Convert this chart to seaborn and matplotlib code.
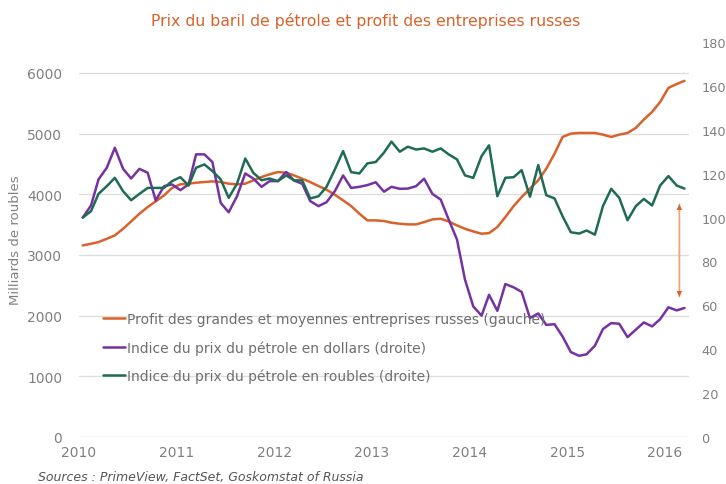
import pandas as pd
import numpy as np
import matplotlib
matplotlib.use("Agg")
import matplotlib.pyplot as plt
import matplotlib.dates as mdates
import seaborn as sns

# monthly data, Jan 2010 - Mar 2016 (points placed mid-month)
dates = pd.date_range("2010-01-01", periods=75, freq="MS") + pd.Timedelta(days=14)

# profit of large and medium Russian companies, bn roubles (left axis)
profit = [3157, 3185, 3212, 3267, 3322, 3432, 3553, 3680, 3790, 3883, 3982, 4104,
          4164, 4175, 4191, 4202, 4213, 4202, 4175, 4164, 4175, 4230, 4285, 4329,
          4367, 4356, 4312, 4257, 4202, 4136, 4076, 3993, 3900, 3806, 3680, 3570,
          3570, 3560, 3531, 3515, 3504, 3504, 3542, 3586, 3597, 3553, 3487, 3432,
          3388, 3350, 3360, 3460, 3625, 3806, 3955, 4092, 4230, 4422, 4670, 4945,
          5000, 5011, 5011, 5011, 4983, 4945, 4983, 5011, 5094, 5231, 5358, 5520,
          5754, 5817, 5870]

# oil price index in dollars (right axis)
oil_usd = [100, 105.5, 117.4, 122.7, 131.8, 122.2, 117.8, 122.2, 120.4, 107.8, 114.3, 115.1,
           112.5, 115.1, 128.8, 128.8, 125.3, 106.7, 102.4, 109.7, 120.1, 117.8, 114.0, 116.6,
           116.6, 120.8, 116.9, 115.4, 107.5, 105.2, 107.0, 112.0, 119.2, 113.5, 114.0, 114.8,
           116.1, 111.8, 114.0, 113.1, 113.2, 114.3, 117.7, 110.8, 108.2, 99.1, 90.0, 71.7,
           59.5, 55.3, 64.8, 57.5, 69.7, 68.2, 66.1, 54.2, 56.3, 51.1, 51.4, 45.8,
           38.7, 37.0, 37.7, 41.6, 49.2, 51.9, 51.6, 45.5, 48.9, 52.2, 50.4, 53.7,
           59.1, 57.7, 58.8]

# oil price index in roubles (right axis)
oil_rub = [100, 102.9, 110.8, 114.3, 118.1, 112.0, 107.9, 110.8, 113.5, 113.5, 113.5, 116.6,
           118.4, 114.6, 122.7, 124.2, 121.2, 117.4, 109.0, 115.4, 126.9, 120.4, 117.0, 117.8,
           116.6, 119.2, 117.0, 116.9, 108.7, 109.7, 114.0, 121.9, 130.3, 120.7, 120.1, 124.7,
           125.3, 129.6, 134.6, 130.0, 132.3, 131.0, 131.5, 130.0, 131.5, 128.8, 126.5, 119.2,
           118.1, 128.0, 132.9, 109.7, 118.1, 118.4, 121.6, 109.5, 123.9, 110.2, 108.7, 100.6,
           93.3, 92.7, 94.1, 92.2, 105.2, 113.1, 109.0, 98.8, 105.2, 108.5, 105.5, 114.6,
           118.9, 114.6, 113.2]

labels = ["Profit des grandes et moyennes entreprises russes (gauche)",
          "Indice du prix du pétrole en dollars (droite)",
          "Indice du prix du pétrole en roubles (droite)"]
colors = ["#D9622B", "#7532A0", "#1E6B56"]

left_ticks = [0, 1000, 2000, 3000, 4000, 5000, 6000]
right_ticks = [0, 20, 40, 60, 80, 100, 120, 140, 160, 180]

sns.set_style("white")
plt.rcParams["font.family"] = ["DejaVu Sans"]

fig = plt.figure(figsize=(7.26, 4.85), dpi=100)
ax = fig.add_axes([79 / 726, 47 / 485, 610 / 726, 395 / 485])
ax2 = ax.twinx()

sns.lineplot(x=dates, y=profit, ax=ax, color=colors[0], lw=1.8, label=labels[0], legend=False)
sns.lineplot(x=dates, y=oil_usd, ax=ax2, color=colors[1], lw=1.8, label=labels[1], legend=False)
sns.lineplot(x=dates, y=oil_rub, ax=ax2, color=colors[2], lw=1.8, label=labels[2], legend=False)

ax.set_xlim(pd.Timestamp("2010-01-01"), pd.Timestamp("2016-04-01"))
ax.set_ylim(0, 6510)
ax2.set_ylim(0, 180)
ax.set_yticks(left_ticks)
ax2.set_yticks(right_ticks)
ax.xaxis.set_major_locator(mdates.YearLocator())
ax.xaxis.set_major_formatter(mdates.DateFormatter("%Y"))

ax.yaxis.grid(True, color="#dedede", lw=1)
ax.xaxis.grid(False)
ax2.grid(False)
for a in (ax, ax2):
    for s in a.spines.values():
        s.set_visible(False)

ax.tick_params(axis="y", length=0, pad=12, labelsize=10, labelcolor="#808080")
ax2.tick_params(axis="y", length=0, pad=9, labelsize=9.3, labelcolor="#808080")
ax.tick_params(axis="x", length=3, color="#d0d0d0", pad=3, labelsize=10, labelcolor="#808080")

ax.set_xlabel("")
ax2.set_ylabel("")
ax.set_ylabel("Milliards de roubles", color="#808080", fontsize=9.5, labelpad=4)

# double-headed arrow showing the gap
arrow_x = pd.Timestamp("2016-02-25")
ax2.annotate("", xy=(arrow_x, 64), xytext=(arrow_x, 106),
             arrowprops=dict(arrowstyle="-", color="#EBA583", lw=1.3,
                             shrinkA=0, shrinkB=0))
ax2.annotate("", xy=(arrow_x, 64), xytext=(arrow_x, 106),
             arrowprops=dict(arrowstyle="<|-|>", color="#D9622B", lw=0.01,
                             mutation_scale=10, shrinkA=0, shrinkB=0))

handles = ax.get_lines()[:1] + ax2.get_lines()[:2]
ax2.legend(handles, labels, loc="center left", bbox_to_anchor=(0.03, 0.226),
           frameon=False, fontsize=10, labelcolor="#6f6f6f", handlelength=1.6,
           handletextpad=0.15, labelspacing=1.0, borderaxespad=0)

fig.text(0.503, 0.957, "Prix du baril de pétrole et profit des entreprises russes",
         ha="center", va="center", color="#D9622B", fontsize=11.3)
fig.text(38 / 726, 0.002, "Sources : PrimeView, FactSet, Goskomstat of Russia",
         ha="left", va="bottom", color="#555555", fontsize=9, style="italic")

fig.savefig("out.png", dpi=100)
